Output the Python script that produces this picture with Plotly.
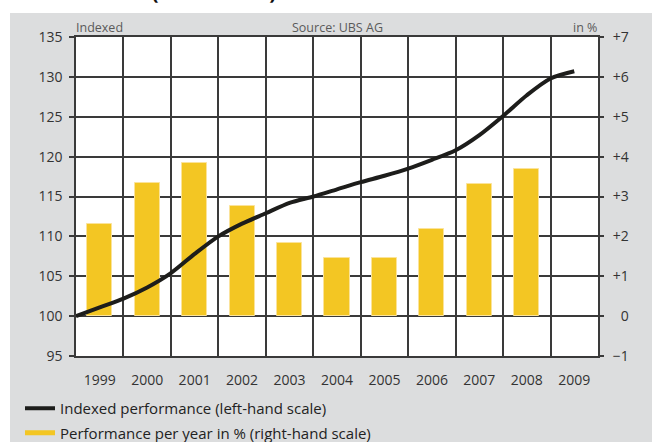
import plotly.graph_objects as go

# ---- data ----
years = [1999, 2000, 2001, 2002, 2003, 2004, 2005, 2006, 2007, 2008, 2009]
year_labels = ["1999", "2000", "2001", "2002", "2003", "2004", "2005", "2006", "2007", "2008", "2009"]
bar_years = [1999, 2000, 2001, 2002, 2003, 2004, 2005, 2006, 2007, 2008]
yearly_pct = [2.32, 3.35, 3.84, 2.75, 1.83, 1.45, 1.45, 2.19, 3.31, 3.70]

# time (category centre = mid-year), indexed level
index_time = [1998.5, 1999.0, 1999.5, 2000.0, 2000.5, 2001.0, 2001.5, 2002.0, 2002.5, 2003.0, 2003.5,
              2004.0, 2004.5, 2005.0, 2005.5, 2006.0, 2006.5, 2007.0, 2007.5, 2008.0, 2008.5, 2009.0]
index_values = [100.0, 101.1, 102.2, 103.6, 105.4, 107.8, 110.0, 111.6, 112.9, 114.2, 115.0,
                115.9, 116.8, 117.6, 118.5, 119.6, 120.8, 122.7, 125.1, 127.7, 129.8, 130.7]

left_ticks = [95, 100, 105, 110, 115, 120, 125, 130, 135]
right_ticks = [-1, 0, 1, 2, 3, 4, 5, 6, 7]
right_labels = ["\u22121", "\u20070", "+1", "+2", "+3", "+4", "+5", "+6", "+7"]
year_bounds = [1998.5, 1999.5, 2000.5, 2001.5, 2002.5, 2003.5, 2004.5, 2005.5, 2006.5, 2007.5, 2008.5, 2009.5]

YELLOW = "#F3C623"
BLACK = "#1d1d1b"
GRID = "#3a3a3a"
FONT = "Open Sans"

W, H = 652, 442
L, R, T, B = 76, 598, 37, 356


def px(xp):
    return (xp - L) / (R - L)


def py(yp):
    return (B - yp) / (B - T)


fig = go.Figure()

fig.add_trace(go.Bar(
    x=bar_years, y=yearly_pct, yaxis="y2", width=0.53,
    marker=dict(color=YELLOW, line=dict(color="#FBE39A", width=1)),
    showlegend=False, hoverinfo="skip",
))
fig.add_trace(go.Scatter(
    x=index_time, y=index_values, yaxis="y3", mode="lines",
    line=dict(color=BLACK, width=4, shape="spline", smoothing=0.8),
    name="Indexed performance (left-hand scale)", legendgroup="a",
))
fig.add_trace(go.Scatter(
    x=[None], y=[None], mode="lines",
    line=dict(color=YELLOW, width=5),
    name="Performance per year in % (right-hand scale)", legendgroup="b",
))

fig.update_layout(
    width=W, height=H,
    margin=dict(l=L, r=W - R, t=T, b=H - B, autoexpand=False),
    paper_bgcolor="white",
    plot_bgcolor="white",
    font=dict(family=FONT, size=14, color="#333333"),
    bargap=0,
    xaxis=dict(
        range=[1998.5, 2009.5], tickvals=years, ticktext=year_labels,
        showgrid=False, zeroline=False, ticks="", ticklabelstandoff=10,
        showline=True, mirror=True, linecolor=GRID, linewidth=1.5,
        minor=dict(tickvals=year_bounds, showgrid=True, gridcolor=GRID, gridwidth=1.5, ticks=""),
        tickfont=dict(size=14, color="#333333"),
    ),
    yaxis=dict(
        range=[95, 135], tickvals=left_ticks, showgrid=True, gridcolor=GRID, gridwidth=1.5,
        zeroline=False, ticks="outside", ticklen=5, tickcolor=GRID, tickwidth=1.5,
        showline=True, mirror=True, linecolor=GRID, linewidth=1.5,
        ticklabelstandoff=4, tickfont=dict(size=14, color="#333333"),
    ),
    yaxis2=dict(
        range=[-1, 7], tickvals=right_ticks, ticktext=right_labels, overlaying="y", side="right",
        showgrid=False, zeroline=False, ticks="outside", ticklen=5, tickcolor=GRID, tickwidth=1.5,
        showline=False, ticklabelstandoff=6, tickfont=dict(size=14, color="#333333"),
    ),
    yaxis3=dict(range=[95, 135], overlaying="y", visible=False),
    legend=dict(
        x=px(20), y=py(392), xanchor="left", yanchor="top",
        font=dict(size=15, color="#222222"), bgcolor="rgba(0,0,0,0)",
        itemwidth=30, tracegroupgap=2,
    ),
    shapes=[
        dict(type="rect", xref="paper", yref="paper", x0=px(10), x1=px(W + 5), y0=py(H + 5), y1=py(13),
             fillcolor="#DCDDDE", line=dict(width=0), layer="below"),
        dict(type="rect", xref="paper", yref="paper", x0=0, x1=1, y0=0, y1=1,
             fillcolor="white", line=dict(width=0), layer="below"),
    ],
    annotations=[
        dict(text="<b>Performance (USD based)</b>", xref="paper", yref="paper", x=px(8), y=py(7),
             xanchor="left", yanchor="bottom", showarrow=False, font=dict(size=21, color="#111111")),
        dict(text="Indexed", xref="paper", yref="paper", x=px(74), y=py(27),
             xanchor="left", yanchor="middle", showarrow=False, font=dict(size=12.5, color="#5a5a5a")),
        dict(text="Source: UBS AG", xref="paper", yref="paper", x=px(337), y=py(27),
             xanchor="center", yanchor="middle", showarrow=False, font=dict(size=12.5, color="#5a5a5a")),
        dict(text="in %", xref="paper", yref="paper", x=px(599), y=py(27),
             xanchor="right", yanchor="middle", showarrow=False, font=dict(size=12.5, color="#5a5a5a")),
    ],
)

fig.write_html(
    "out.html",
    config={"displayModeBar": False},
    post_script="document.body.style.margin='0';document.body.style.padding='0';",
)
